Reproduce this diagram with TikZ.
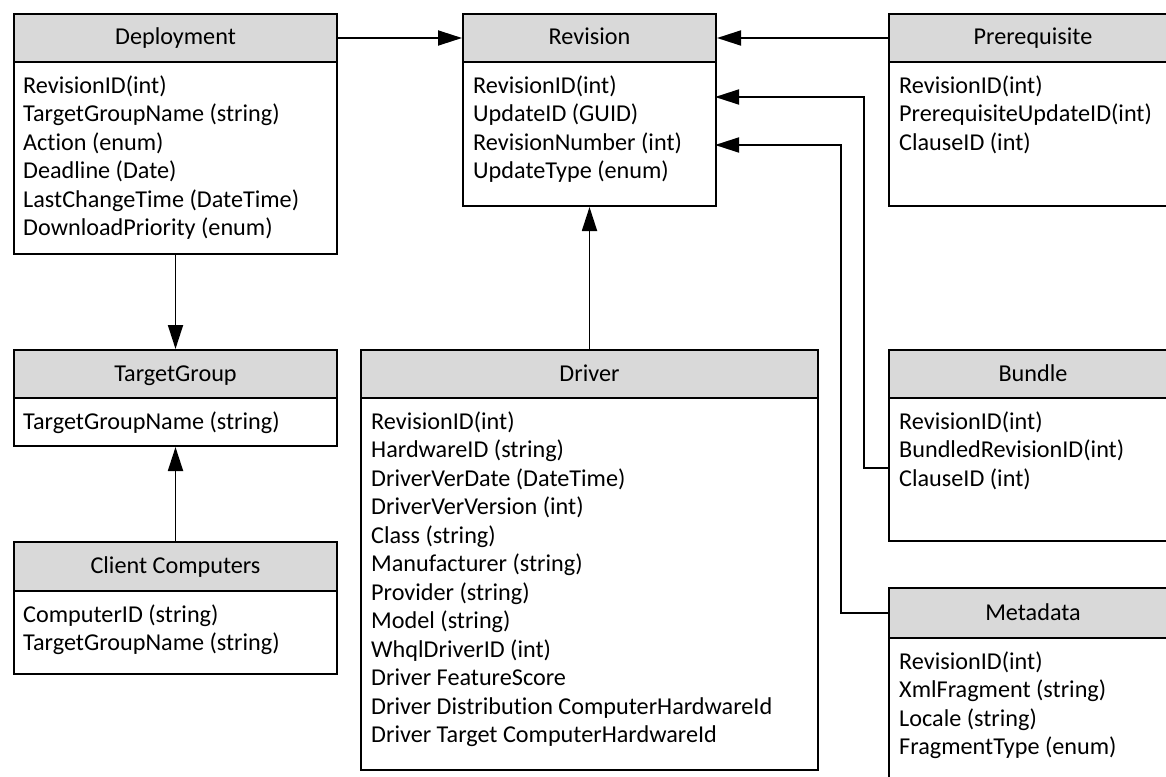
\documentclass[tikz,border=0pt]{standalone}
\usepackage{fontspec}
\setmainfont{Carlito}[Ligatures=NoCommon]
\usetikzlibrary{arrows.meta}
\definecolor{hdrgray}{HTML}{D9D9D9}
\begin{document}
\begin{tikzpicture}[x=1pt,y=-1pt,
  hdr/.style={draw, line width=2pt, fill=hdrgray, anchor=north west, minimum height=48pt, inner sep=0pt, text height=17pt, text depth=3pt, font=\fontsize{24.2}{28.5}\selectfont},
  bdy/.style={draw, line width=2pt, fill=white, anchor=north west, inner sep=0pt},
  txt/.style={anchor=base west, inner sep=0pt, font=\fontsize{24.2}{28.5}\selectfont},
  conn/.style={line width=1.8pt, -{Triangle[length=24pt,width=15pt]}}
]
\useasboundingbox (0,0) rectangle (1166,776);
\clip (0,0) rectangle (1166,776);

% Deployment
\node[bdy, minimum width=323pt, minimum height=192pt] (depB) at (13,61) {};
\node[hdr, minimum width=323pt] (depH) at (13,13) {Deployment};
\node[txt] (depT) at (23,93) {\parbox[t]{600pt}{RevisionID(int)\\TargetGroupName (string)\\Action (enum)\\Deadline (Date)\\LastChangeTime (DateTime)\\DownloadPriority (enum)}};

% Revision
\node[bdy, minimum width=253pt, minimum height=144pt] (revB) at (462,61) {};
\node[hdr, minimum width=253pt] (revH) at (462,13) {Revision};
\node[txt] (revT) at (473,93) {\parbox[t]{600pt}{RevisionID(int)\\UpdateID (GUID)\\RevisionNumber (int)\\UpdateType (enum)}};

% Prerequisite
\node[bdy, minimum width=288pt, minimum height=144pt] (preB) at (888,61) {};
\node[hdr, minimum width=288pt] (preH) at (888,13) {Prerequisite};
\node[txt] (preT) at (899,93) {\parbox[t]{600pt}{RevisionID(int)\\PrerequisiteUpdateID(int)\\ClauseID (int)}};

% TargetGroup
\node[bdy, minimum width=323pt, minimum height=48pt] (tgB) at (13,397) {};
\node[hdr, minimum width=323pt] (tgH) at (13,349) {TargetGroup};
\node[txt] (tgT) at (23,429) {\parbox[t]{600pt}{TargetGroupName (string)}};

% Client Computers
\node[bdy, minimum width=323pt, minimum height=83pt] (ccB) at (13,590) {};
\node[hdr, minimum width=323pt, minimum height=49pt] (ccH) at (13,541) {Client Computers};
\node[txt] (ccT) at (23,622) {\parbox[t]{600pt}{ComputerID (string)\\TargetGroupName (string)}};

% Driver
\node[bdy, minimum width=457pt, minimum height=372pt] (drvB) at (360,397) {};
\node[hdr, minimum width=457pt] (drvH) at (360,349) {Driver};
\node[txt] (drvT) at (371,429) {\parbox[t]{600pt}{RevisionID(int)\\HardwareID (string)\\DriverVerDate (DateTime)\\DriverVerVersion (int)\\Class (string)\\Manufacturer (string)\\Provider (string)\\Model (string)\\WhqlDriverID (int)\\Driver FeatureScore\\Driver Distribution ComputerHardwareId\\Driver Target ComputerHardwareId}};

% Bundle
\node[bdy, minimum width=288pt, minimum height=143pt] (bunB) at (888,397) {};
\node[hdr, minimum width=288pt] (bunH) at (888,349) {Bundle};
\node[txt] (bunT) at (899,429) {\parbox[t]{600pt}{RevisionID(int)\\BundledRevisionID(int)\\ClauseID (int)}};

% Metadata
\node[bdy, minimum width=288pt, minimum height=160pt] (metB) at (888,637) {};
\node[hdr, minimum width=288pt, minimum height=50pt] (metH) at (888,587) {Metadata};
\node[txt] (metT) at (899,669) {\parbox[t]{600pt}{RevisionID(int)\\XmlFragment (string)\\Locale (string)\\FragmentType (enum)}};

% connectors
\coordinate (bunOut) at (888,468);
\coordinate (revIn1) at (715,97);
\coordinate (metOut) at (888,613);
\coordinate (revIn2) at (715,145);

\draw[conn] (depH.east) -- (revH.west);
\draw[conn] (preH.west) -- (revH.east);
\draw[conn] (bunOut) -- ++(-24,0) |- (revIn1);
\draw[conn] (metOut) -- ++(-47,0) |- (revIn2);
\draw[conn] (drvH.north) -- (revB.south);
\draw[conn] (depB.south) -- (tgH.north);
\draw[conn] (ccH.north) -- (tgB.south);
\end{tikzpicture}
\end{document}
